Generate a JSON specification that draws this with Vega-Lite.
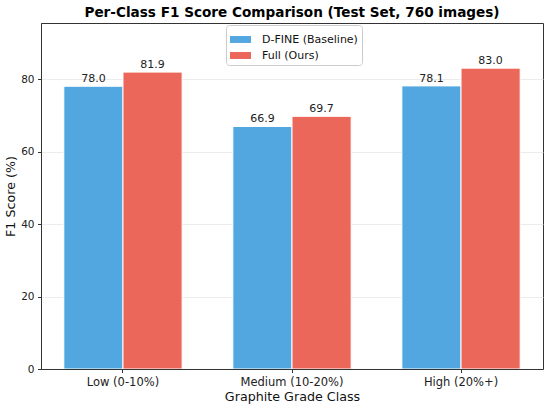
{
  "$schema": "https://vega.github.io/schema/vega-lite/v6.json",
  "width": 502,
  "height": 346,
  "autosize": {"type": "none"},
  "padding": {"left": 41, "top": 23, "right": 7, "bottom": 39},
  "background": "white",
  "title": {
    "text": "Per-Class F1 Score Comparison (Test Set, 760 images)",
    "font": "DejaVu Sans",
    "fontSize": 13.6,
    "fontWeight": "bold",
    "color": "#000000",
    "anchor": "middle",
    "frame": "group",
    "baseline": "bottom",
    "offset": 3,
    "dy": 14
  },
  "config": {
    "view": {"stroke": "#333333", "strokeWidth": 1},
    "font": "DejaVu Sans"
  },
  "data": {
    "values": [
      {"cls": "Low (0-10%)", "model": "D-FINE (Baseline)", "f1": 78.0},
      {"cls": "Low (0-10%)", "model": "Full (Ours)", "f1": 81.9},
      {"cls": "Medium (10-20%)", "model": "D-FINE (Baseline)", "f1": 66.9},
      {"cls": "Medium (10-20%)", "model": "Full (Ours)", "f1": 69.7},
      {"cls": "High (20%+)", "model": "D-FINE (Baseline)", "f1": 78.1},
      {"cls": "High (20%+)", "model": "Full (Ours)", "f1": 83.0}
    ]
  },
  "encoding": {
    "x": {
      "field": "cls",
      "type": "nominal",
      "sort": ["Low (0-10%)", "Medium (10-20%)", "High (20%+)"],
      "scale": {"paddingInner": 0.3, "paddingOuter": 0.135},
      "title": "Graphite Grade Class",
      "axis": {
        "labelAngle": 0,
        "bandPosition": 0.5,
        "labelFont": "DejaVu Sans",
        "labelFontSize": 11.5,
        "labelColor": "#222222",
        "labelPadding": 4,
        "tickSize": 3.5,
        "tickColor": "#333333",
        "domainColor": "#333333",
        "zindex": 1,
        "titleFont": "DejaVu Sans",
        "titleFontSize": 12.7,
        "titleFontWeight": "normal",
        "titleColor": "#111111",
        "titlePadding": 2,
        "grid": false
      }
    },
    "xOffset": {
      "field": "model",
      "type": "nominal",
      "sort": ["D-FINE (Baseline)", "Full (Ours)"],
      "scale": {"paddingInner": 0, "paddingOuter": 0}
    },
    "y": {
      "field": "f1",
      "type": "quantitative",
      "scale": {"domain": [0, 95.45], "nice": false},
      "title": "F1 Score (%)",
      "axis": {
        "values": [0, 20, 40, 60, 80],
        "labelFont": "DejaVu Sans",
        "labelFontSize": 10.5,
        "labelColor": "#222222",
        "labelPadding": 3.5,
        "tickSize": 3.5,
        "tickColor": "#333333",
        "domainColor": "#333333",
        "gridColor": "#e7e7e7",
        "gridWidth": 0.8,
        "titleFont": "DejaVu Sans",
        "titleFontSize": 12.7,
        "titleFontWeight": "normal",
        "titleColor": "#111111",
        "titlePadding": 3
      }
    }
  },
  "layer": [
    {
      "mark": {"type": "bar", "stroke": "white", "strokeWidth": 1},
      "encoding": {
        "color": {
          "field": "model",
          "type": "nominal",
          "sort": ["D-FINE (Baseline)", "Full (Ours)"],
          "scale": {"range": ["#52a7e0", "#ea6759"]},
          "title": null,
          "legend": {
            "orient": "none",
            "legendX": 185,
            "legendY": 2,
            "direction": "vertical",
            "fillColor": "white",
            "strokeColor": "#cccccc",
            "cornerRadius": 3,
            "padding": 4,
            "symbolType": "M-1,-0.33H1V0.33H-1Z",
            "symbolSize": 441,
            "symbolStrokeWidth": 0,
            "labelFont": "DejaVu Sans",
            "labelFontSize": 11,
            "labelColor": "#111111",
            "labelOffset": 11,
            "rowPadding": -5
          }
        }
      }
    },
    {
      "mark": {
        "type": "text",
        "baseline": "alphabetic",
        "dy": -4,
        "font": "DejaVu Sans",
        "fontSize": 11,
        "color": "#222222"
      },
      "encoding": {
        "text": {"field": "f1", "type": "quantitative", "format": ".1f"}
      }
    }
  ]
}
